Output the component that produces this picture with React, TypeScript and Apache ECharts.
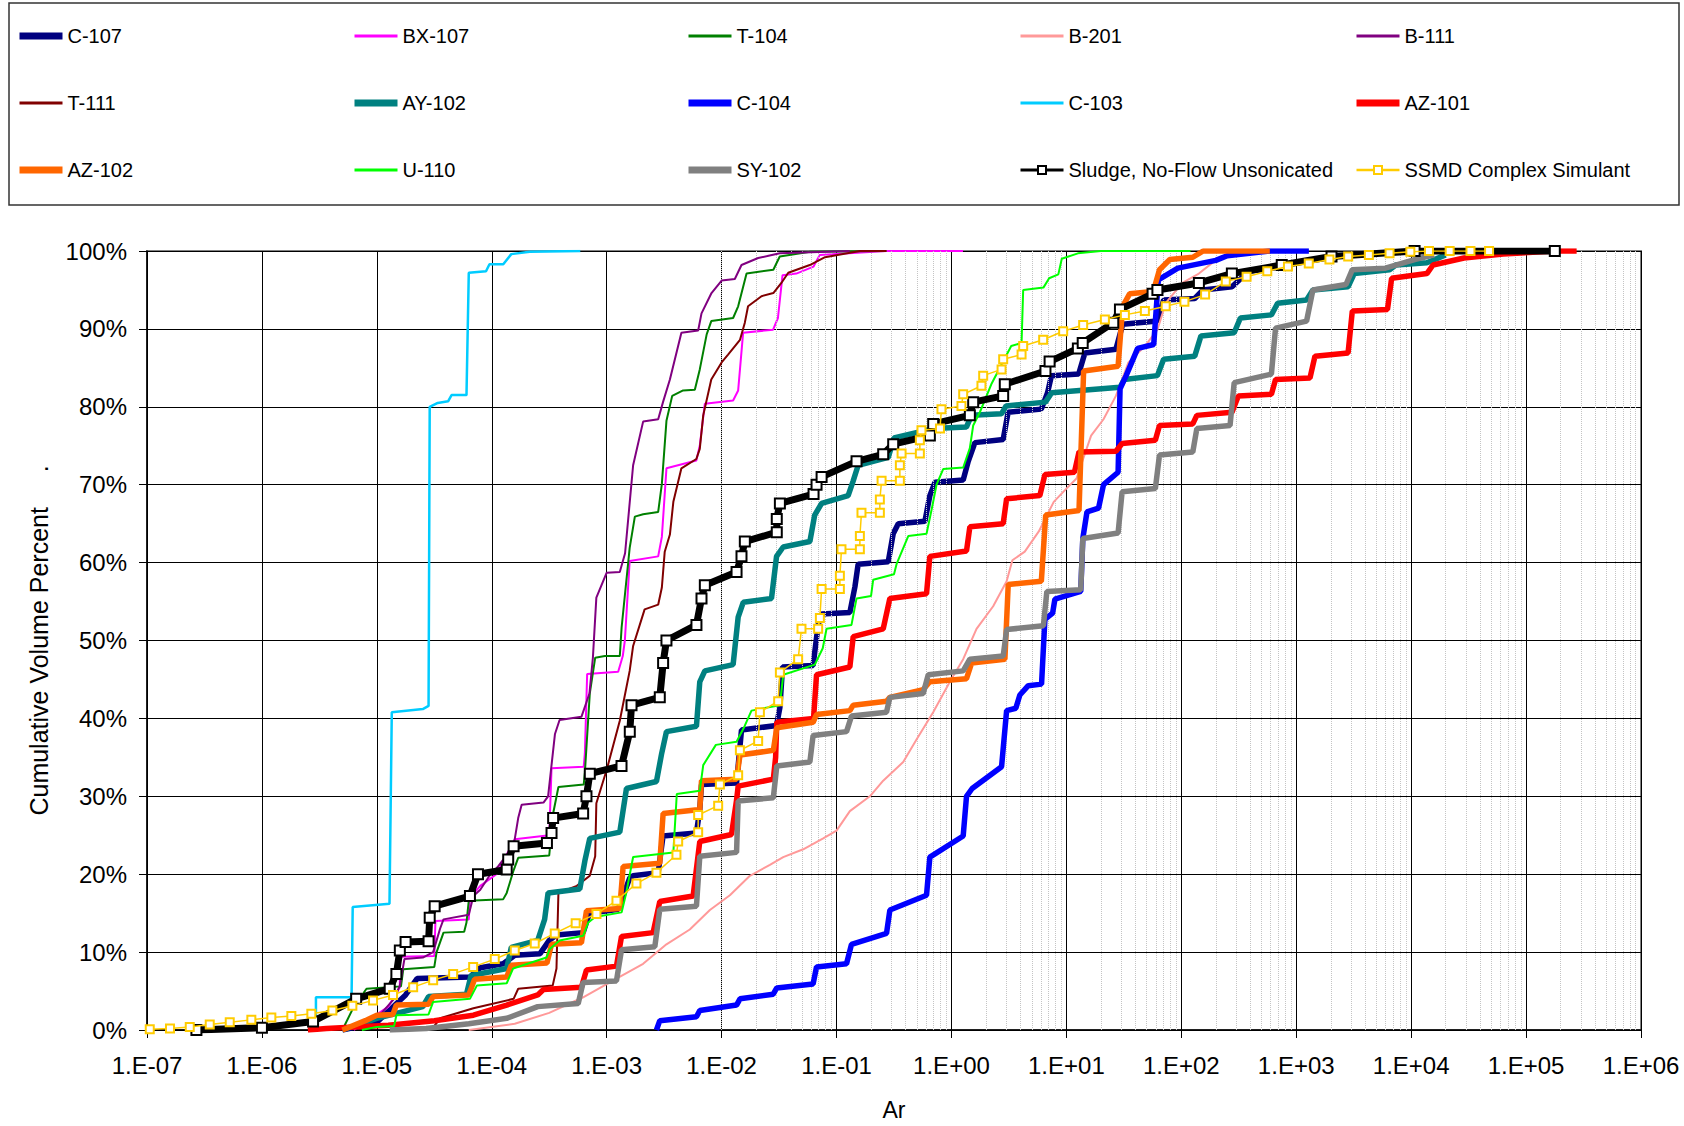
import React, { useEffect, useRef } from "react";
import * as echarts from "echarts";

// Each point: [log10(Ar), cumulative volume %]
const c107 = [[-5.3,0],[-5.0,1.0],[-4.75,4.5],[-4.65,6.6],[-4.19,6.8],[-4.1,8],[-3.9,8.5],[-3.8,9.6],[-3.58,9.8],[-3.5,11.5],[-3.437,12.2],[-3.205,12.5],[-3.15,15],[-2.9,15.5],[-2.8,19.5],[-2.77,19.8],[-2.552,20.2],[-2.51,24.9],[-2.219,25.3],[-2.19,28.3],[-2.175,31.5],[-1.87,31.7],[-1.827,38.5],[-1.522,39.1],[-1.493,41.4],[-1.47,46.6],[-1.204,46.8],[-1.16,52],[-1.13,53.4],[-0.884,53.6],[-0.84,56.9],[-0.812,59.8],[-0.55,60.1],[-0.507,63.7],[-0.463,65],[-0.231,65.3],[-0.188,68.6],[-0.144,70.3],[0.102,70.6],[0.146,73],[0.204,75.4],[0.45,75.8],[0.493,79.3],[0.782,79.7],[0.836,81.8],[0.87,84],[1.107,84.2],[1.161,86.9],[1.431,87.4],[1.49,90.6],[1.792,91],[1.846,93.7],[2.117,93.9],[2.189,95],[2.441,95.4],[2.586,97.4],[2.9,98]];
const bx107 = [[-5.2,0],[-4.9,3],[-4.8,5.5],[-4.8,9.4],[-4.5,9.5],[-4.49,14],[-4.2,14.2],[-4.19,17],[-4.1,18.5],[-3.96,20],[-3.8,24.5],[-3.5,25],[-3.48,33.6],[-3.2,33.8],[-3.19,35.5],[-3.17,45.7],[-2.9,46],[-2.86,48],[-2.842,50],[-2.8,60.2],[-2.552,60.8],[-2.52,63.3],[-2.48,72.1],[-2.22,73.1],[-2.19,75],[-2.146,80.4],[-1.9,80.8],[-1.856,82.1],[-1.813,89.5],[-1.552,89.9],[-1.51,91.4],[-1.47,96.9],[-1.35,97.1],[-1.2,98],[-1.146,99.5],[-0.566,100],[0.1,100]];
const t104 = [[-5.3,0],[-5.2,3],[-5.09,5.3],[-4.79,5.6],[-4.77,7.8],[-4.5,8.1],[-4.48,10],[-4.42,12.5],[-4.24,12.6],[-4.22,13.8],[-4.2,16.6],[-3.9,16.8],[-3.87,17.6],[-3.81,20.5],[-3.77,22.1],[-3.5,22.4],[-3.466,27.8],[-3.42,31.2],[-3.2,31.5],[-3.19,33],[-3.147,43.2],[-3.1,47.8],[-3.016,48],[-2.886,48],[-2.87,51.7],[-2.8,61.9],[-2.755,65.9],[-2.683,66.2],[-2.552,66.5],[-2.52,70.1],[-2.48,78.2],[-2.43,81.4],[-2.335,82.1],[-2.233,82.2],[-2.19,84.8],[-2.13,89.3],[-2.09,91],[-1.9,91.4],[-1.856,92.9],[-1.783,97.1],[-1.55,97.6],[-1.494,99.3],[-1.23,99.9],[-0.566,100]];
const b201 = [[-4.2,0],[-3.8,0.8],[-3.5,2.2],[-3.205,4.2],[-2.915,6.6],[-2.683,8.5],[-2.48,11],[-2.277,12.9],[-2.102,15.4],[-1.928,17.3],[-1.754,19.8],[-1.58,21.2],[-1.464,22.2],[-1.29,23.2],[-1.116,24.6],[-1.0,25.6],[-0.884,28.1],[-0.71,30],[-0.594,32],[-0.42,34.4],[-0.304,37.3],[-0.159,40.8],[-0.014,44.7],[0.102,47.6],[0.218,51.5],[0.363,54.4],[0.48,57.6],[0.53,60.3],[0.638,61.4],[0.76,64],[0.89,67.8],[1.0,69.5],[1.088,70.8],[1.215,76.3],[1.323,78.4],[1.431,81.4],[1.54,85.7],[1.684,87.8],[1.792,89.9],[1.864,93.3],[2.009,95.9],[2.153,97.1],[2.297,98.8],[2.441,99.7],[2.586,100]];
const b111 = [[-5.3,0],[-5.0,1.5],[-4.85,4],[-4.8,5.7],[-4.76,9.1],[-4.6,9.3],[-4.51,10],[-4.45,13],[-4.42,14.2],[-4.2,14.8],[-4.16,17.2],[-4.1,18],[-4.02,19.8],[-3.945,21],[-3.81,23.6],[-3.77,27.2],[-3.74,28.9],[-3.55,29.2],[-3.51,30],[-3.45,38],[-3.41,39.8],[-3.22,40.2],[-3.15,43.2],[-3.12,47.8],[-3.09,55.5],[-3.0,58.7],[-2.886,58.8],[-2.84,61.2],[-2.77,72.5],[-2.683,78.1],[-2.552,78.4],[-2.51,80.6],[-2.45,83.5],[-2.35,89.5],[-2.204,89.8],[-2.175,92],[-2.088,94.6],[-2.0,96.2],[-1.885,96.4],[-1.827,98.2],[-1.682,99.1],[-1.494,99.7],[-0.885,100]];
const t111 = [[-4.7,0],[-4.51,0.3],[-4.45,1.5],[-4.16,2.8],[-3.81,4.0],[-3.77,5.3],[-3.47,5.7],[-3.437,7.9],[-3.42,17.6],[-3.26,18.5],[-3.147,19.8],[-3.1,22.3],[-3.09,29.1],[-3.0,33.4],[-2.886,39.7],[-2.8,46.1],[-2.77,49.3],[-2.67,54],[-2.552,54.6],[-2.52,56.8],[-2.495,61.4],[-2.45,63.6],[-2.42,67.8],[-2.35,72.1],[-2.22,73.3],[-2.19,74.6],[-2.16,78.9],[-2.09,83.5],[-2.0,85.7],[-1.944,86.7],[-1.84,88.6],[-1.798,90.8],[-1.77,92.9],[-1.653,94.2],[-1.55,94.6],[-1.48,95.9],[-1.42,97.2],[-1.233,98.2],[-1.1,99.2],[-0.797,100],[-0.566,100]];
const ay102 = [[-5.3,0],[-5.0,1.5],[-4.6,3.0],[-4.55,4.3],[-4.22,4.6],[-4.18,7],[-3.87,7.9],[-3.83,10.6],[-3.6,11.5],[-3.54,14.2],[-3.51,17.6],[-3.234,18.1],[-3.19,21.7],[-3.147,24.6],[-2.886,25.4],[-2.828,31],[-2.567,31.9],[-2.523,35.4],[-2.48,38.3],[-2.219,39],[-2.19,44.7],[-2.146,46.1],[-1.9,46.9],[-1.856,53],[-1.812,54.9],[-1.566,55.4],[-1.522,60.8],[-1.464,62],[-1.232,62.7],[-1.19,66.1],[-1.13,67.6],[-0.899,68.6],[-0.855,70.5],[-0.812,72.5],[-0.55,73.5],[-0.5,76],[-0.159,77.2],[0.13,77.4],[0.174,78.9],[0.435,79.1],[0.475,80.1],[0.818,80.6],[0.872,81.8],[1.467,82.5],[1.503,83.5],[1.792,84],[1.846,86.1],[2.117,86.5],[2.171,89.1],[2.46,89.5],[2.514,91.4],[2.784,91.8],[2.838,93.3],[3.09,93.7],[3.145,95],[3.451,95.4],[3.505,97.1],[3.812,97.6],[3.866,98.2],[4.137,98.5],[4.3,99.5]];
const c104 = [[-2.567,0],[-2.538,1.2],[-2.219,1.7],[-2.19,2.5],[-1.87,3.2],[-1.84,4],[-1.551,4.6],[-1.52,5.4],[-1.204,5.9],[-1.174,8.1],[-0.913,8.5],[-0.87,11],[-0.565,12.4],[-0.536,15.4],[-0.217,17.3],[-0.188,22.2],[0.102,24.9],[0.131,30],[0.18,31],[0.436,33.8],[0.48,41],[0.56,41.3],[0.595,43],[0.668,44.2],[0.784,44.4],[0.813,52.7],[0.88,53.5],[0.9,55.3],[1.125,56.3],[1.143,63.1],[1.179,66.5],[1.28,67],[1.323,70],[1.45,71.6],[1.467,82.3],[1.52,84],[1.62,87.5],[1.76,88],[1.8,96.3],[1.97,97.8],[2.3,98.8],[2.4,99.4],[2.77,100],[3.11,100]];
const c103 = [[-5.53,0],[-5.53,4.2],[-5.22,4.2],[-5.21,15.8],[-4.89,16.2],[-4.87,40.8],[-4.6,41.2],[-4.55,41.6],[-4.54,80],[-4.47,80.5],[-4.38,80.7],[-4.35,81.5],[-4.22,81.5],[-4.2,97.2],[-4.05,97.4],[-4.02,98.3],[-3.9,98.3],[-3.83,99.6],[-3.67,99.9],[-3.23,100]];
const az101 = [[-5.6,0],[-5.44,0.2],[-4.9,0.6],[-4.5,1.2],[-4.16,1.9],[-3.87,3.2],[-3.6,4.5],[-3.55,5.2],[-3.22,5.5],[-3.176,7.7],[-2.915,8.2],[-2.871,12],[-2.596,12.5],[-2.538,16.5],[-2.248,17.2],[-2.19,24.2],[-1.914,25.1],[-1.87,29.5],[-1.856,31.3],[-1.55,32.2],[-1.53,35],[-1.52,39.5],[-1.2,40],[-1.174,45.6],[-0.884,46.6],[-0.855,50.5],[-0.594,51.5],[-0.536,55.4],[-0.217,56],[-0.188,60.8],[0.131,61.5],[0.16,64.6],[0.45,65],[0.48,68.2],[0.769,68.6],[0.813,71.3],[1.07,71.6],[1.11,74.2],[1.431,74.3],[1.485,75.3],[1.774,75.7],[1.81,77.6],[2.1,77.8],[2.135,78.9],[2.441,79.3],[2.496,81.4],[2.784,81.6],[2.82,83.5],[3.12,83.7],[3.163,86.5],[3.451,86.9],[3.488,92.3],[3.794,92.5],[3.83,96.5],[4.137,97.1],[4.19,98.2],[4.46,99.1],[4.8,99.6],[5.25,100],[5.44,100]];
const az102 = [[-5.3,0],[-5.1,1.2],[-5.0,1.9],[-4.86,2.0],[-4.83,3.2],[-4.55,3.3],[-4.51,4.3],[-4.2,4.5],[-4.15,6.5],[-3.87,6.8],[-3.83,8.3],[-3.52,8.6],[-3.48,11],[-3.22,11.2],[-3.176,15.3],[-2.886,15.6],[-2.857,21],[-2.538,21.4],[-2.509,27.8],[-2.19,28.3],[-2.175,32],[-1.87,32.2],[-1.84,35.3],[-1.55,35.9],[-1.52,38.8],[-1.204,39.5],[-1.174,40.5],[-0.884,41],[-0.855,41.7],[-0.565,42.2],[-0.536,42.7],[-0.246,43.7],[-0.188,44.7],[0.131,45.1],[0.175,47.1],[0.465,47.6],[0.494,57.2],[0.782,57.6],[0.82,66.1],[1.11,66.7],[1.15,84.6],[1.45,85.2],[1.49,92.9],[1.55,94.5],[1.756,94.8],[1.81,97.6],[1.9,98.9],[2.1,99.2],[2.19,100],[2.77,100]];
const u110 = [[-5.13,0],[-5.0,0.4],[-4.85,0.5],[-4.83,1.9],[-4.55,2.0],[-4.51,3.6],[-4.19,4.0],[-4.13,5.7],[-3.87,6.0],[-3.814,7.9],[-3.524,9.3],[-3.495,10.4],[-3.41,11.5],[-3.205,12.1],[-3.16,13.8],[-3.1,14.5],[-2.87,15.1],[-2.83,17.6],[-2.77,22.2],[-2.42,22.8],[-2.39,30.3],[-2.19,30.7],[-2.16,34],[-2.05,36.6],[-1.87,37],[-1.8,39],[-1.74,41],[-1.493,41.7],[-1.464,45.6],[-1.189,46.9],[-1.12,49],[-1.087,51.5],[-0.87,52],[-0.826,55.4],[-0.7,55.7],[-0.681,57.8],[-0.5,58.5],[-0.478,59.8],[-0.376,63.4],[-0.217,63.7],[-0.17,67],[-0.13,70],[-0.072,72],[0.102,72.2],[0.16,74.7],[0.189,77.6],[0.247,79.3],[0.35,83],[0.52,87.8],[0.61,88.2],[0.624,95],[0.8,95.3],[0.85,96.5],[0.93,97],[0.96,99],[1.1,99.7],[1.3,100],[2.08,100]];
const sy102 = [[-4.888,0],[-4.57,0.2],[-4.2,0.8],[-3.87,1.5],[-3.6,3.0],[-3.248,3.4],[-3.205,6.1],[-2.915,6.3],[-2.871,10.3],[-2.581,10.7],[-2.538,15.5],[-2.219,15.9],[-2.19,22.3],[-1.87,22.8],[-1.856,29.4],[-1.55,29.8],[-1.52,33.9],[-1.232,34.4],[-1.204,37.8],[-0.913,38.3],[-0.87,40.3],[-0.565,40.8],[-0.536,42.7],[-0.246,43.2],[-0.202,45.6],[0.102,46.1],[0.16,47.6],[0.45,48],[0.48,51.4],[0.8,51.9],[0.83,56.3],[1.125,56.5],[1.143,63.1],[1.45,63.8],[1.485,69.1],[1.774,69.5],[1.81,73.8],[2.1,74.2],[2.135,77.2],[2.424,77.6],[2.46,83.1],[2.784,84.2],[2.82,90.1],[3.09,91],[3.145,95],[3.433,95.7],[3.488,97.6],[3.776,97.8],[4.03,98.9],[4.2,99.5]];
const sludge = [[-6.57,0],[-6.0,0.3],[-5.555,1.1],[-5.18,4.0],[-4.888,5.3],[-4.83,7.2],[-4.8,10.2],[-4.75,11.3],[-4.55,11.4],[-4.54,14.4],[-4.497,15.9],[-4.19,17.2],[-4.12,20],[-3.87,20.6],[-3.857,21.9],[-3.81,23.6],[-3.52,24],[-3.48,25.3],[-3.466,27.2],[-3.205,27.8],[-3.176,30],[-3.147,32.9],[-2.871,33.9],[-2.799,38.3],[-2.784,41.7],[-2.538,42.7],[-2.509,47.1],[-2.48,50],[-2.219,52],[-2.175,55.4],[-2.146,57.1],[-1.87,58.8],[-1.827,60.8],[-1.798,62.7],[-1.52,63.9],[-1.52,65.6],[-1.493,67.6],[-1.2,68.8],[-1.174,70],[-1.13,71],[-0.826,73],[-0.594,73.9],[-0.507,75.2],[-0.188,76.3],[-0.159,77.8],[0.16,78.9],[0.189,80.6],[0.45,81.4],[0.464,82.9],[0.818,84.6],[0.854,85.8],[1.1,87.5],[1.142,88.2],[1.408,90.8],[1.466,92.5],[1.75,94.5],[1.792,95],[2.153,95.9],[2.44,97.1],[2.874,98.2],[3.307,99.3],[4.03,100],[5.25,100]];
const ssmd = [[-6.976,0.1],[-6.8,0.2],[-6.628,0.4],[-6.454,0.7],[-6.28,1.0],[-6.092,1.3],[-5.918,1.6],[-5.744,1.8],[-5.57,2.1],[-5.387,2.5],[-5.213,3.1],[-5.033,3.8],[-4.859,4.5],[-4.684,5.5],[-4.51,6.4],[-4.336,7.2],[-4.162,8.1],[-3.974,9.1],[-3.8,10.2],[-3.626,11.1],[-3.452,12.4],[-3.27,13.7],[-3.089,14.9],[-2.915,16.6],[-2.741,18.8],[-2.567,20.2],[-2.393,22.5],[-2.378,24.2],[-2.204,25.4],[-2.204,27.6],[-2.03,28.8],[-2.015,31.5],[-1.856,32.7],[-1.841,35.9],[-1.682,37.1],[-1.667,40.8],[-1.508,42.2],[-1.493,45.9],[-1.334,47.6],[-1.305,51.5],[-1.16,51.5],[-1.145,52.9],[-1.13,56.6],[-0.971,56.6],[-0.971,58.3],[-0.957,61.7],[-0.797,61.7],[-0.797,63.4],[-0.783,66.4],[-0.623,66.4],[-0.623,68.1],[-0.608,70.5],[-0.449,70.5],[-0.449,72.5],[-0.434,74.0],[-0.275,74.0],[-0.275,75.7],[-0.261,77.0],[-0.1,77.2],[-0.087,79.7],[0.087,80.1],[0.102,81.6],[0.261,82.7],[0.276,84.0],[0.436,84.8],[0.45,86.1],[0.61,86.7],[0.624,87.8],[0.798,88.6],[0.972,89.7],[1.146,90.5],[1.335,91.2],[1.509,91.8],[1.683,92.3],[1.864,92.9],[2.027,93.5],[2.207,94.4],[2.387,96.1],[2.568,96.7],[2.748,97.4],[2.928,98.0],[3.109,98.4],[3.289,98.9],[3.452,99.3],[3.632,99.5],[3.812,99.7],[3.993,99.9],[4.155,100],[4.335,100],[4.516,100],[4.678,100]];

const decades = [-7, -6, -5, -4, -3, -2, -1, 0, 1, 2, 3, 4, 5, 6];

const seriesDefs = [
  { name: "C-107", data: c107, color: "#000080", width: 5.5, legendWidth: 7 },
  { name: "BX-107", data: bx107, color: "#FF00FF", width: 2, legendWidth: 3 },
  { name: "T-104", data: t104, color: "#008000", width: 2, legendWidth: 3 },
  { name: "B-201", data: b201, color: "#FF9999", width: 2, legendWidth: 3 },
  { name: "B-111", data: b111, color: "#800080", width: 2, legendWidth: 3 },
  { name: "T-111", data: t111, color: "#800000", width: 2, legendWidth: 3 },
  { name: "AY-102", data: ay102, color: "#008080", width: 5.5, legendWidth: 7 },
  { name: "C-104", data: c104, color: "#0000FF", width: 5.5, legendWidth: 7 },
  { name: "C-103", data: c103, color: "#00CCFF", width: 2.5, legendWidth: 3 },
  { name: "AZ-101", data: az101, color: "#FF0000", width: 5.5, legendWidth: 7 },
  { name: "AZ-102", data: az102, color: "#FF6600", width: 5.5, legendWidth: 7 },
  { name: "U-110", data: u110, color: "#00FF00", width: 2, legendWidth: 3 },
  { name: "SY-102", data: sy102, color: "#808080", width: 5.5, legendWidth: 7 },
  { name: "Sludge, No-Flow Unsonicated", data: sludge, color: "#000000", width: 7, marker: true, mSize: 10, mBorder: 4, legendWidth: 3 },
  { name: "SSMD Complex Simulant", data: ssmd, color: "#FFCC00", width: 1.5, marker: true, mSize: 8, mBorder: 2, legendWidth: 2.5 },
];

const legendColumns = [
  ["C-107", "T-111", "AZ-102"],
  ["BX-107", "AY-102", "U-110"],
  ["T-104", "C-104", "SY-102"],
  ["B-201", "C-103", "Sludge, No-Flow Unsonicated"],
  ["B-111", "AZ-101", "SSMD Complex Simulant"],
];
const legendLefts = [16, 351, 685, 1019, 1353];

const FONT = "'Liberation Sans', Arial, sans-serif";

function fmtDecade(v: number) {
  const e = Math.round(Math.log10(v));
  return "1.E" + (e < 0 ? "-" : "+") + String(Math.abs(e)).padStart(2, "0");
}

export default function App() {
  const ref = useRef<HTMLDivElement>(null);
  useEffect(() => {
    if (!ref.current) return;
    const chart = echarts.init(ref.current, null, { renderer: "svg" });

    const minorLines: any[] = [];
    for (let i = 0; i < decades.length - 1; i++) {
      for (let k = 2; k <= 9; k++) minorLines.push({ xAxis: k * Math.pow(10, decades[i]) });
    }

    const series: any[] = [
      {
        type: "line",
        name: "__minor",
        data: [],
        silent: true,
        z: 1,
        markLine: {
          silent: true,
          symbol: "none",
          animation: false,
          label: { show: false },
          lineStyle: { color: "#c4c4c4", type: "dotted", width: 1 },
          data: minorLines,
        },
      },
    ];
    seriesDefs.forEach((d: any, idx) => {
      series.push({
        type: "line",
        name: d.name,
        data: d.data.map(([l, p]: number[]) => [Math.pow(10, l), p]),
        z: 3 + idx,
        symbol: d.marker ? "emptyRect" : "none",
        symbolSize: d.marker ? d.mSize : 0,
        showSymbol: !!d.marker,
        lineStyle: { color: d.color, width: d.width },
        itemStyle: { color: d.color, borderColor: d.color, borderWidth: d.marker ? d.mBorder : 0 },
        emphasis: { disabled: true },
      });
    });

    const defByName: Record<string, any> = {};
    seriesDefs.forEach((d) => (defByName[d.name] = d));

    const legends = legendColumns.map((col, i) => ({
      orient: "vertical",
      left: legendLefts[i],
      top: 26,
      padding: 0,
      itemGap: 47,
      itemWidth: 43,
      itemHeight: 10,
      selectedMode: false,
      data: col.map((name) => {
        const d = defByName[name];
        if (d.marker) {
          return { name, lineStyle: { width: d.legendWidth, color: d.color }, itemStyle: { borderWidth: 2 } };
        }
        return { name, lineStyle: { width: d.legendWidth, color: d.color }, itemStyle: { opacity: 0 } };
      }),
      textStyle: { fontFamily: FONT, fontSize: 20, color: "#000", lineHeight: 20 },
    }));

    chart.setOption({
      animation: false,
      backgroundColor: "#ffffff",
      textStyle: { fontFamily: FONT },
      legend: legends,
      graphic: [
        {
          type: "rect",
          shape: { x: 9, y: 3, width: 1670, height: 202 },
          style: { fill: "none", stroke: "#333", lineWidth: 1.5 },
          silent: true,
        },
      ],
      grid: {
        left: 147,
        right: 43,
        top: 251,
        bottom: 91,
        show: true,
        borderColor: "#808080",
        borderWidth: 2,
        backgroundColor: "transparent",
      },
      xAxis: {
        type: "log",
        logBase: 10,
        min: Math.pow(10, decades[0]),
        max: Math.pow(10, decades[decades.length - 1]),
        interval: 1,
        name: "Ar",
        nameLocation: "middle",
        nameGap: 68,
        nameTextStyle: { fontFamily: FONT, fontSize: 23, color: "#000" },
        axisLine: { show: true, lineStyle: { color: "#000", width: 1.5 } },
        axisTick: { show: true, length: 8, lineStyle: { color: "#000" } },
        axisLabel: { formatter: fmtDecade, fontFamily: FONT, fontSize: 24, color: "#000", margin: 23 },
        splitLine: { show: true, lineStyle: { color: "#000", width: 1 } },
      },
      yAxis: {
        type: "value",
        min: 0,
        max: 100,
        interval: 10,
        name: "Cumulative Volume Percent     .",
        nameLocation: "middle",
        nameGap: 96,
        nameTextStyle: { fontFamily: FONT, fontSize: 25, color: "#000" },
        axisLine: { show: true, lineStyle: { color: "#000", width: 1.5 } },
        axisTick: { show: true, length: 8, lineStyle: { color: "#000" } },
        axisLabel: { formatter: "{value}%", fontFamily: FONT, fontSize: 24, color: "#000", margin: 20 },
        splitLine: { show: true, lineStyle: { color: "#000", width: 1 } },
      },
      series,
    });
    return () => chart.dispose();
  }, []);
  return (
    <div
      ref={ref}
      style={{ position: "fixed", left: 0, top: 0, width: 1684, height: 1126, background: "#fff" }}
    />
  );
}
